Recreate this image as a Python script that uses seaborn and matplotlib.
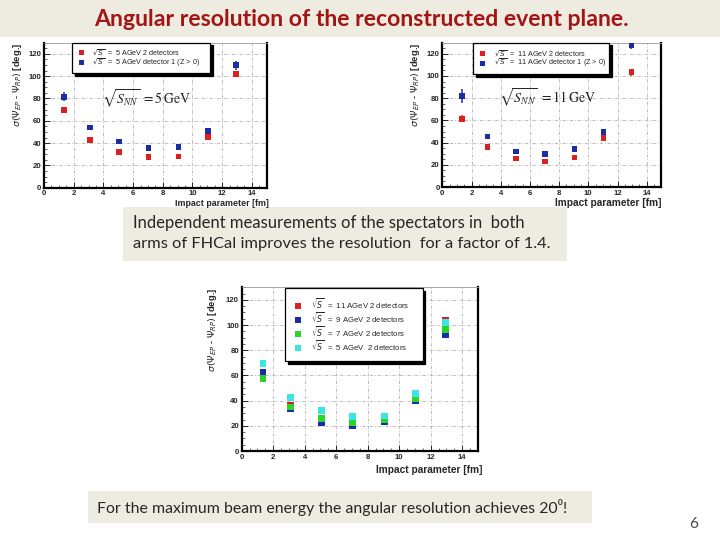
import matplotlib
matplotlib.use("Agg")
import matplotlib.pyplot as plt
from matplotlib.patches import Rectangle
from matplotlib.ticker import MultipleLocator
import pandas as pd
import seaborn as sns

# impact parameter bins [fm]
b = [1.35, 3.1, 5.05, 7.05, 9.05, 11.05, 12.95]

# sqrt(s) = 5 GeV: two detectors vs one detector (Z > 0)
res5_two = [69.6, 42.7, 31.9, 27.5, 27.8, 45.4, 102.0]
err5_two = [3, 1, 1, 1, 1, 1, 2.5]
res5_one = [81.5, 54.0, 41.5, 35.8, 36.7, 50.7, 109.9]
err5_one = [4, 1.5, 1, 1, 1, 1.5, 4]

# sqrt(s) = 11 GeV
res11_two = [61.5, 36.2, 25.6, 22.9, 26.5, 44.3, 103.4]
err11_two = [3, 1, 1, 1, 1, 1, 3]
res11_one = [82.0, 45.5, 32.0, 29.8, 34.4, 49.7, 128.0]
err11_one = [6, 1.5, 1, 1, 1, 1.5, 4]

# 9 and 7 GeV, two detectors
res9_two = [62.5, 33.3, 22.9, 20.2, 23.2, 40.2, 92.6]
res7_two = [57.7, 34.9, 25.5, 22.4, 25.3, 42.0, 96.6]
err_mid = [2, 1.5, 1, 1, 1, 1.5, 3]

RED, BLUE, GREEN, CYAN = '#dd1f1f', '#1c2ca6', '#2ad42a', '#3de6e6'
BEIGE = '#eeece1'
ylab = r'$\sigma(\Psi_{EP}$ - $\Psi_{RP})$ [deg.]'

sns.set_theme(style='white')
plt.rcParams['font.family'] = ['Liberation Sans', 'DejaVu Sans']
plt.rcParams['mathtext.fontset'] = 'dejavusans'


def panel(ax, series, errs, labels, colors, msize, leg_box, leg_fs, xl_fs,
          leg_pad, leg_space):
    rows = []
    for lab, ys in zip(labels, series):
        rows += [{'b': x, 'res': y, 'set': lab} for x, y in zip(b, ys)]
    df = pd.DataFrame(rows)
    for ys, e, c in zip(series, errs, colors):
        ax.errorbar(b, ys, yerr=e, fmt='none', ecolor=c, elinewidth=1.1,
                    capsize=0, zorder=2)
    sns.scatterplot(data=df, x='b', y='res', hue='set', hue_order=labels,
                    palette=colors, marker='s', s=msize, linewidth=0,
                    ax=ax, zorder=3)
    ax.set_xlim(0, 15)
    ax.set_ylim(0, 130)
    ax.xaxis.set_minor_locator(MultipleLocator(0.5))
    ax.yaxis.set_minor_locator(MultipleLocator(5))
    ax.set_xticks([0, 2, 4, 6, 8, 10, 12, 14])
    ax.set_yticks([0, 20, 40, 60, 80, 100, 120])
    ax.grid(True, which='major', color='#b4b4b4', lw=0.6,
            linestyle=(0, (4, 2, 1, 2)))
    ax.tick_params(which='both', direction='in', left=True, bottom=True,
                   labelsize=5.6, pad=2)
    ax.tick_params(which='major', length=4, width=0.7)
    ax.tick_params(which='minor', length=2, width=0.5)
    for t in ax.get_xticklabels() + ax.get_yticklabels():
        t.set_fontweight('bold')
    for side in ['left', 'bottom', 'right']:
        ax.spines[side].set_linewidth(1.6)
        ax.spines[side].set_color('black')
    ax.spines['top'].set_linewidth(0.6)
    ax.spines['top'].set_color('#999999')
    ax.set_xlabel('Impact parameter [fm]', loc='right', fontsize=xl_fs,
                  fontweight='bold')
    ax.set_ylabel(ylab, loc='top', fontsize=6.8, fontweight='bold')
    leg = ax.legend(loc='upper left', bbox_to_anchor=leg_box, mode='expand',
                    fontsize=leg_fs, frameon=True, fancybox=False,
                    shadow={'color': 'black', 'alpha': 1},
                    handlelength=1.2, handletextpad=1.0, borderpad=leg_pad,
                    labelspacing=leg_space, markerscale=0.9, borderaxespad=0)
    leg.get_frame().set_edgecolor('black')
    leg.get_frame().set_linewidth(0.9)
    leg.set_zorder(5)
    return ax


fig = plt.figure(figsize=(7.2, 5.4), dpi=100)
fig.patch.set_facecolor('white')

# title band
fig.add_artist(Rectangle((0, 1 - 37 / 540), 1, 37 / 540, transform=fig.transFigure,
                         facecolor=BEIGE, edgecolor='none', zorder=0))
fig.text(361 / 720, 1 - 19 / 540, 'Angular resolution of the reconstructed event plane.',
         ha='center', va='center', fontsize=16.6, fontweight='bold',
         color='#a31515', family=['Lato', 'DejaVu Sans'])

# panel 1: 5 GeV
ax1 = fig.add_axes([44 / 720, 1 - 187.7 / 540, 222.7 / 720, 145 / 540])
panel(ax1, [res5_two, res5_one], [err5_two, err5_one],
      [r'$\sqrt{S}$  =  5 AGeV 2 detectors', r'$\sqrt{S}$  =  5 AGeV detector 1 (Z > 0)'],
      [RED, BLUE], 16, (0.126, 0.8, 0.62, 0.2), 5.2, 6.4, 0.6, -0.12)
ax1.text(0.259, 0.61, r'$\sqrt{S_{NN}}\ = 5\,\mathrm{GeV}$', transform=ax1.transAxes,
         fontsize=9.8, math_fontfamily='stix', va='center', ha='left')
ax1.xaxis.set_label_coords(1.01, -0.078)
ax1.yaxis.set_label_coords(-0.09, 1.0)

# panel 2: 11 GeV
ax2 = fig.add_axes([442.3 / 720, 1 - 187 / 540, 219 / 720, 144.3 / 540])
panel(ax2, [res11_two, res11_one], [err11_two, err11_one],
      [r'$\sqrt{S}$  =  11 AGeV 2 detectors', r'$\sqrt{S}$  =  11 AGeV detector 1 (Z > 0)'],
      [RED, BLUE], 16, (0.139, 0.783, 0.622, 0.217), 5.2, 7.3, 0.7, -0.12)
ax2.text(0.259, 0.619, r'$\sqrt{S_{NN}}\ = 11\,\mathrm{GeV}$', transform=ax2.transAxes,
         fontsize=10, math_fontfamily='stix', va='center', ha='left')
ax2.xaxis.set_label_coords(1.0, -0.075)
ax2.yaxis.set_label_coords(-0.093, 1.0)

# panel 3: all energies
ax3 = fig.add_axes([241.7 / 720, 1 - 451 / 540, 236.3 / 720, 163.7 / 540])
panel(ax3, [res11_two, res9_two, res7_two, res5_two],
      [err11_two, err_mid, err_mid, err5_two],
      [r'$\sqrt{S}$  =  11 AGeV 2 detectors', r'$\sqrt{S}$  =  9 AGeV 2 detectors',
       r'$\sqrt{S}$  =  7 AGeV 2 detectors', r'$\sqrt{S}$  =  5 AGeV  2 detectors'],
      [RED, BLUE, GREEN, CYAN], 24, (0.183, 0.576, 0.583, 0.42), 5.6, 7.3, 1.1, -0.08)
ax3.xaxis.set_label_coords(1.02, -0.085)
ax3.yaxis.set_label_coords(-0.094, 1.0)

# text boxes
fig.add_artist(Rectangle((123 / 720, 1 - 261 / 540), 444 / 720, 54 / 540,
                         transform=fig.transFigure, facecolor=BEIGE,
                         edgecolor='none', zorder=0))
fig.text(133 / 720, 1 - 223 / 540, 'Independent measurements of the spectators in  both',
         ha='left', va='center', fontsize=12, family=['Lato', 'DejaVu Sans'])
fig.text(133 / 720, 1 - 244 / 540, 'arms of FHCal improves the resolution  for a factor of 1.4.',
         ha='left', va='center', fontsize=11.8, family=['Lato', 'DejaVu Sans'])

fig.add_artist(Rectangle((88 / 720, 1 - 523 / 540), 504 / 720, 32 / 540,
                         transform=fig.transFigure, facecolor=BEIGE,
                         edgecolor='none', zorder=0))
fig.text(97 / 720, 1 - 507 / 540, 'For the maximum beam energy the angular resolution achieves 20\u2070!',
         ha='left', va='center', fontsize=11.4, family=['Lato', 'DejaVu Sans'])
fig.text(694 / 720, 1 - 524 / 540, '6', ha='center', va='center', fontsize=11,
         color='#444444', family=['Lato', 'DejaVu Sans'])

fig.savefig('out.png', dpi=100)
